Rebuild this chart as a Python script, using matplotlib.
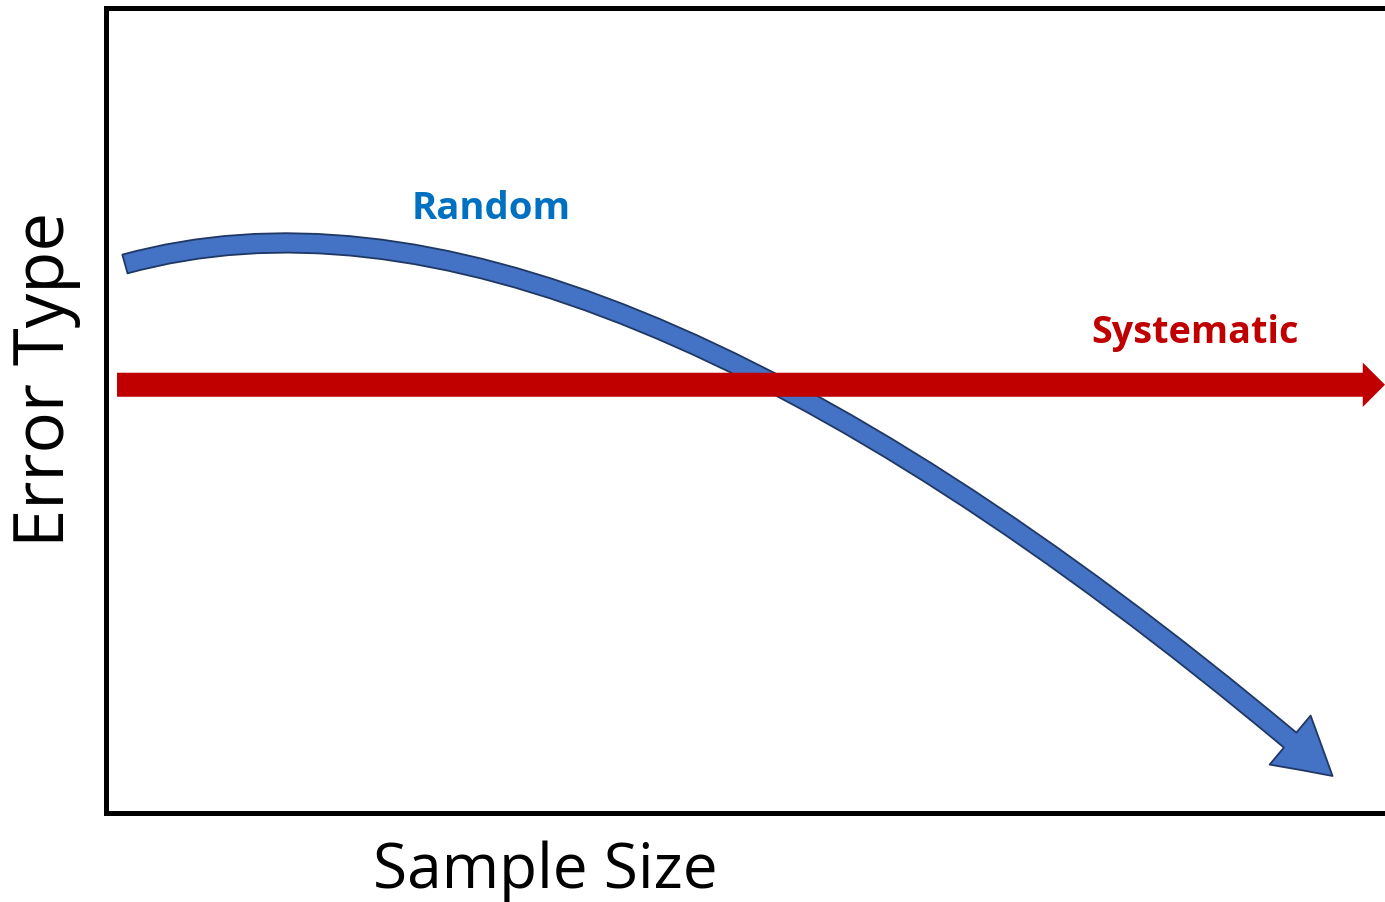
import matplotlib
matplotlib.use("Agg")
import matplotlib.pyplot as plt
from matplotlib.patches import FancyArrowPatch
from matplotlib.path import Path

# ---- data (axes units: x 0-100 = sample size, y 0-100 = error) ----
random_pts_x = [1.52, 37.55, 95.9]    # start, bezier control, tip
random_pts_y = [68.2, 84.0, 4.6]
systematic_x = [0.9, 100.0]
systematic_y = [53.2, 53.2]
labels = {"random": "Random", "systematic": "Systematic"}
xlabel = "Sample Size"
ylabel = "Error Type"

W, H, DPI = 1385, 902, 100
fig = plt.figure(figsize=(W / DPI, H / DPI), dpi=DPI)
plt.rcParams['font.family'] = ['Open Sans', 'DejaVu Sans']

left = 105.5 / W
bottom = (H - 813) / H
top = 1 - 8 / H
ax = fig.add_axes([left, bottom, 1.0 - left, top - bottom])
ax.set_xlim(0, 100)
ax.set_ylim(0, 100)
ax.set_xticks([])
ax.set_yticks([])
for s in ["left", "bottom", "top"]:
    ax.spines[s].set_linewidth(3.6)
    ax.spines[s].set_color("black")
ax.spines["right"].set_visible(False)

# Random: curved blue arrow
verts = list(zip(random_pts_x, random_pts_y))
path = Path(verts, [Path.MOVETO, Path.CURVE3, Path.CURVE3])
blue = FancyArrowPatch(path=path,
                       arrowstyle="simple,head_length=40,head_width=46,tail_width=14",
                       facecolor="#4472C4", edgecolor="#1F3864", linewidth=1.3,
                       transform=ax.transData, clip_on=False, zorder=3)
ax.add_patch(blue)

# Systematic: straight red arrow
red = FancyArrowPatch((systematic_x[0], systematic_y[0]), (systematic_x[1], systematic_y[1]),
                      arrowstyle="simple,head_length=16,head_width=32,tail_width=17.3",
                      facecolor="#C00000", edgecolor="none", linewidth=0,
                      shrinkA=0, shrinkB=0,
                      transform=ax.transData, clip_on=False, zorder=4)
ax.add_patch(red)

fig.text(491 / W, 1 - 219 / H, labels["random"], color="#0070C0", fontsize=27.5,
         fontweight="bold", ha="center", va="baseline")
fig.text(1195 / W, 1 - 343 / H, labels["systematic"], color="#C00000", fontsize=27.2,
         fontweight="bold", ha="center", va="baseline")
fig.text(545 / W, 1 - 888 / H, xlabel, color="black", fontsize=44.7,
         ha="center", va="baseline")
fig.text(64 / W, 1 - 379 / H, ylabel, color="black", fontsize=49.5,
         ha="center", va="baseline", rotation=90, rotation_mode="anchor")

fig.savefig("out.png", dpi=DPI, facecolor="white")
